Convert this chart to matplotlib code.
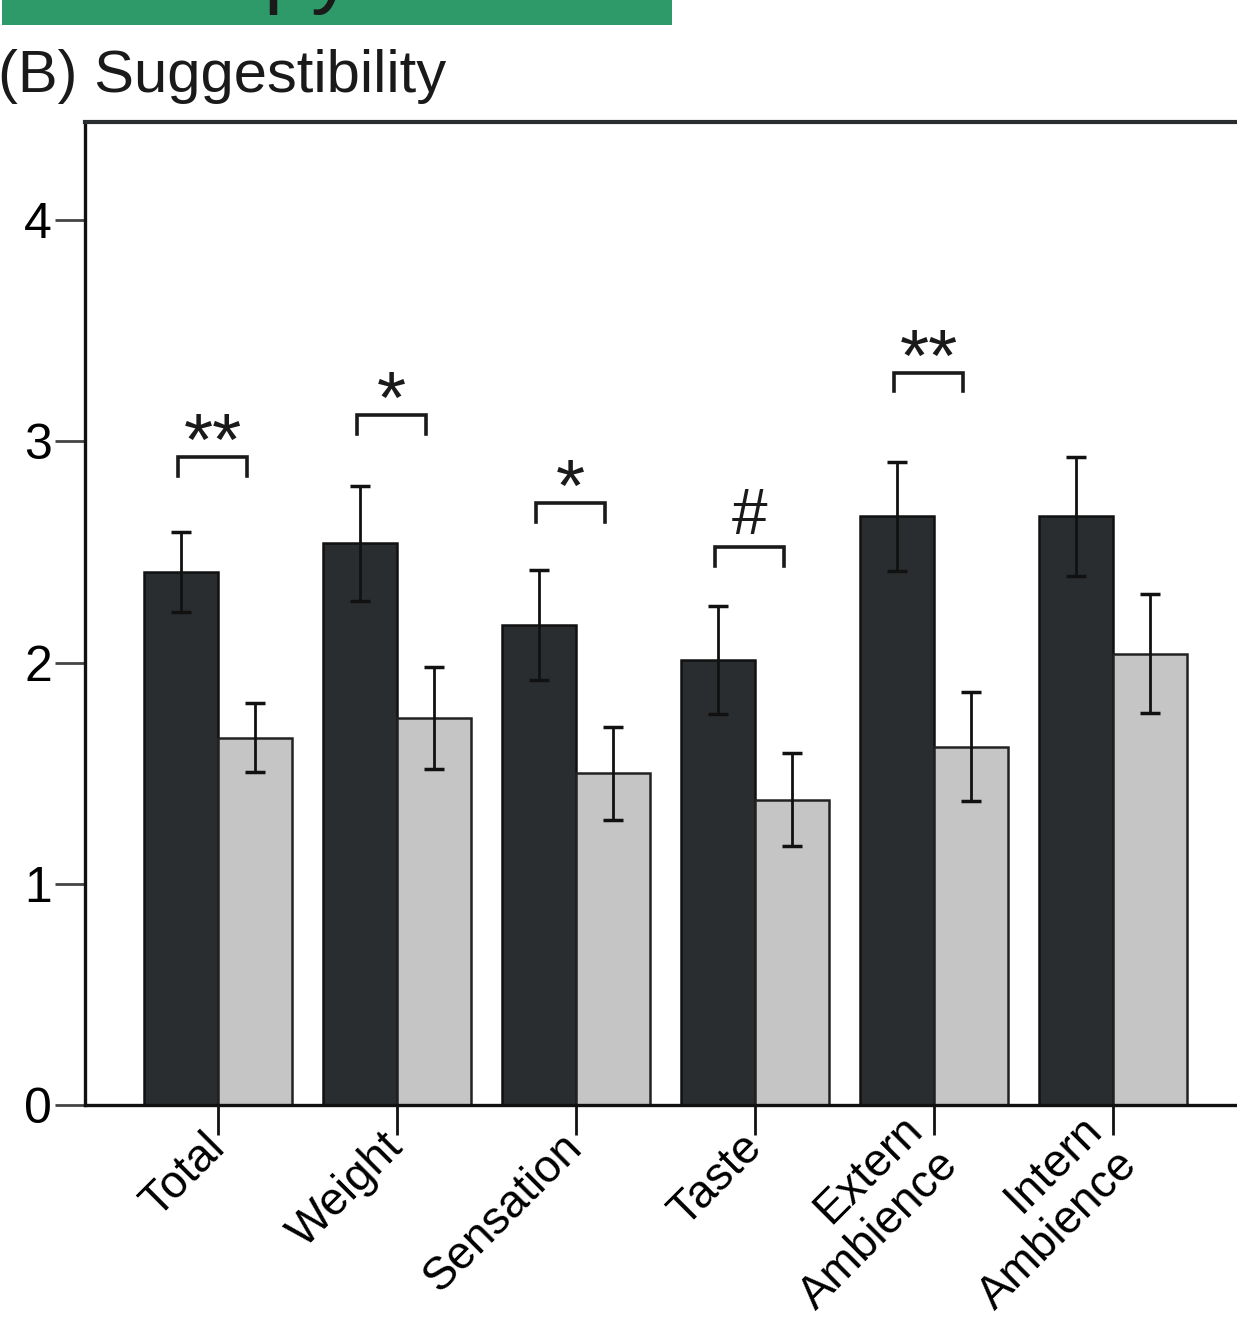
import matplotlib
matplotlib.use("Agg")
import matplotlib.pyplot as plt
import numpy as np

plt.rcParams['font.family'] = ['Liberation Sans', 'DejaVu Sans']

# ---- data ----
categories = ["Total", "Weight", "Sensation", "Taste", "Extern\nAmbience", "Intern\nAmbience"]
dark_means = [2.41, 2.54, 2.17, 2.01, 2.66, 2.66]
dark_errs = [0.18, 0.26, 0.25, 0.245, 0.245, 0.27]
light_means = [1.66, 1.75, 1.50, 1.38, 1.62, 2.04]
light_errs = [0.155, 0.23, 0.21, 0.21, 0.245, 0.27]
sig_groups = [0, 1, 2, 3, 4]
sig_labels = ["**", "*", "*", "#", "**"]
sig_heights = [2.93, 3.12, 2.72, 2.52, 3.31]
yticks = [0, 1, 2, 3, 4]

W, H = 1237, 1340
fig = plt.figure(figsize=(W / 100, H / 100), dpi=100)

# top green strip (cut-off panel above)
strip = fig.add_axes([2 / W, 1 - 25 / H, 670 / W, 25 / H])
strip.set_facecolor("#2e9a6a")
strip.set_xticks([]); strip.set_yticks([])
for s in strip.spines.values():
    s.set_visible(False)
strip.text(0.390, 1.12, "py", transform=strip.transAxes, fontsize=62,
           ha="left", va="baseline", color="#1a1a1a", clip_on=True)

fig.text(-2 / W, 1 - 92 / H, "(B) Suggestibility", fontsize=43,
         ha="left", va="baseline", color="#1a1a1a")

ax = fig.add_axes([85 / W, 1 - 1105 / H, (W - 85) / W, (1105 - 122) / H])

x = np.arange(len(categories))
w = 0.415
ekw = dict(elinewidth=2.0, capthick=2.5, ecolor="#111111")
ax.bar(x - w / 2, dark_means, w, color="#2a2d30", edgecolor="#111111", linewidth=1.8,
       yerr=dark_errs, capsize=7, error_kw=ekw, zorder=2)
ax.bar(x + w / 2, light_means, w, color="#c4c5c4", edgecolor="#222222", linewidth=1.8,
       yerr=light_errs, capsize=7, error_kw=ekw, zorder=2)

# significance brackets
leg = 0.085
for g, lab, h in zip(sig_groups, sig_labels, sig_heights):
    xl, xr = g - 0.224, g + 0.163
    ax.plot([xl, xl, xr, xr], [h - leg, h, h, h - leg], color="#1a1a1a", lw=2.6,
            solid_joinstyle="miter", zorder=3)
    if lab == "#":
        ax.text((xl + xr) / 2, h + 0.063, lab, ha="center", va="baseline",
                fontsize=46, color="#1a1a1a")
    else:
        ax.text((xl + xr) / 2, h - 0.035, lab, ha="center", va="baseline",
                fontsize=54, color="#1a1a1a")

ax.set_xlim(-0.743, 5.693)
ax.set_ylim(0, 4.443)

ax.set_yticks(yticks)
ax.set_yticklabels([str(t) for t in yticks], fontsize=36)
ax.tick_params(axis="y", direction="out", length=21.6, width=2.0, color="#444444", pad=2)

ax.set_xticks(x)
ax.set_xticklabels(categories, fontsize=33, rotation=45, ha="right",
                   rotation_mode="anchor", va="center", multialignment="right")
ax.tick_params(axis="x", direction="out", length=21.6, width=2.0, color="#111111", pad=4)

for side in ["left", "bottom"]:
    ax.spines[side].set_linewidth(2.4)
    ax.spines[side].set_color("#111111")
ax.spines["top"].set_linewidth(3.0)
ax.spines["top"].set_color("#2a2d30")
ax.spines["right"].set_visible(False)

fig.savefig("out.png", dpi=100)
